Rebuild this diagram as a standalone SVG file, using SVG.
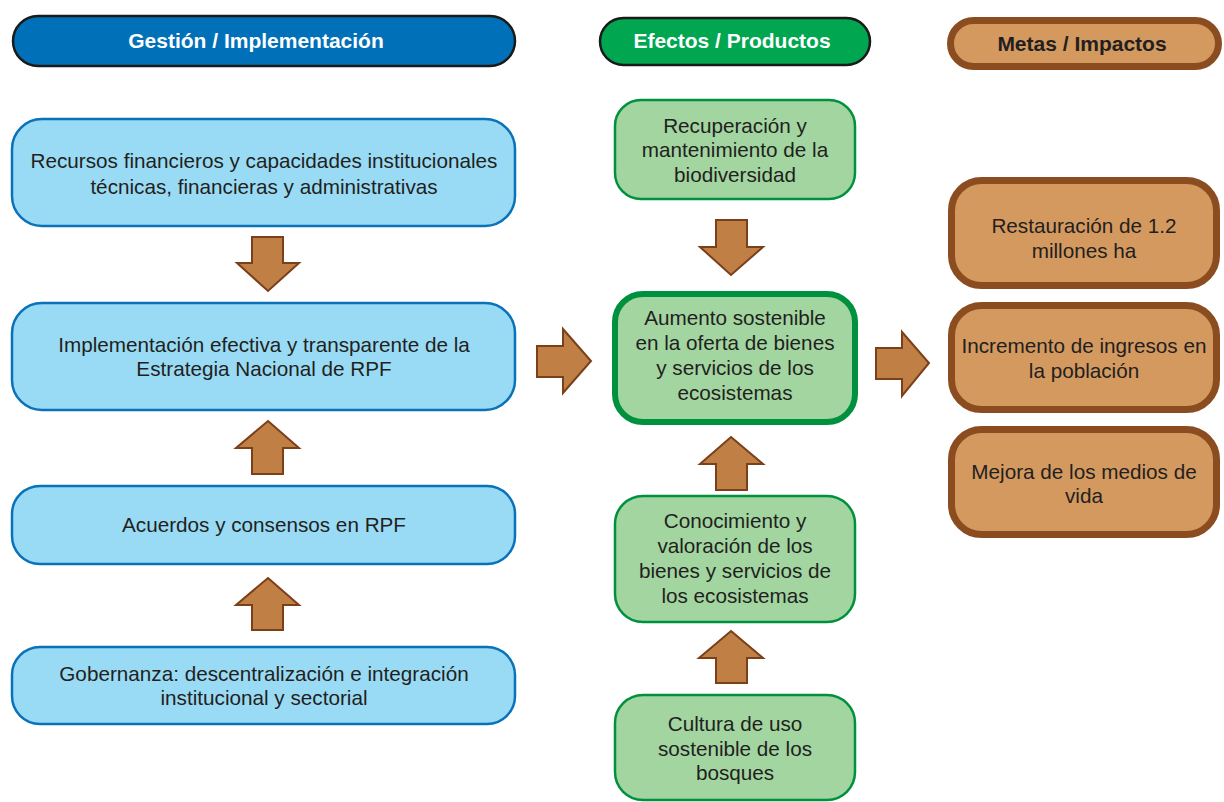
<svg xmlns="http://www.w3.org/2000/svg" width="1224" height="802" viewBox="0 0 1224 802">
<style>
.t{font-family:"Liberation Sans",Arial,sans-serif;font-size:20.7px;fill:#231f20;text-anchor:middle}
.h{font-family:"Liberation Sans",Arial,sans-serif;font-size:21px;font-weight:bold;text-anchor:middle}
.blue{fill:#99dbf5;stroke:#0a72b9;stroke-width:2.5}
.green{fill:#a2d5a0;stroke:#00913f;stroke-width:2.5}
.brown{fill:#d4995f;stroke:#8b4c20;stroke-width:7}
.arr{fill:#c07f45;stroke:#7b3f1a;stroke-width:2;stroke-linejoin:miter}
</style>
<rect width="1224" height="802" fill="#fff"/>
<g id="hdr-gestion">
<rect x="13" y="16" width="502" height="50" rx="25" fill="#0070b8" stroke="#1a1a1a" stroke-width="2.5"/>
<text class="h" x="256" y="48" fill="#fff">Gestión / Implementación</text>
</g>
<g id="hdr-efectos">
<rect x="600" y="18" width="270" height="47" rx="23.5" fill="#00a650" stroke="#1a1a1a" stroke-width="2.5"/>
<text class="h" x="732" y="48" fill="#fff">Efectos / Productos</text>
</g>
<g id="hdr-metas">
<rect x="950.5" y="20.5" width="268" height="46" rx="23" class="brown"/>
<text class="h" x="1082" y="51" fill="#231f20">Metas / Impactos</text>
</g>

<g id="n-recursos">
<rect x="12" y="119" width="503" height="107" rx="30" class="blue"/>
<text class="t" x="264" y="168">Recursos financieros y capacidades institucionales</text>
<text class="t" x="264" y="194">técnicas, financieras y administrativas</text>
</g>
<g id="n-implementacion">
<rect x="12" y="303" width="503" height="107" rx="30" class="blue"/>
<text class="t" x="264" y="352">Implementación efectiva y transparente de la</text>
<text class="t" x="264" y="376">Estrategia Nacional de RPF</text>
</g>
<g id="n-acuerdos">
<rect x="12" y="486" width="503" height="78" rx="28" class="blue"/>
<text class="t" x="264" y="532">Acuerdos y consensos en RPF</text>
</g>
<g id="n-gobernanza">
<rect x="12" y="647" width="503" height="77" rx="28" class="blue"/>
<text class="t" x="264" y="681">Gobernanza: descentralización e integración</text>
<text class="t" x="264" y="705">institucional y sectorial</text>
</g>

<g id="n-recuperacion">
<rect x="615" y="100" width="240" height="99" rx="26" class="green"/>
<text class="t" x="735" y="133">Recuperación y</text>
<text class="t" x="735" y="157">mantenimiento de la</text>
<text class="t" x="735" y="182">biodiversidad</text>
</g>
<g id="n-aumento">
<rect x="615" y="294" width="240" height="128" rx="28" fill="#a2d5a0" stroke="#00913f" stroke-width="6"/>
<text class="t" x="735" y="325">Aumento sostenible</text>
<text class="t" x="735" y="350">en la oferta de bienes</text>
<text class="t" x="735" y="375">y servicios de los</text>
<text class="t" x="735" y="400">ecosistemas</text>
</g>
<g id="n-conocimiento">
<rect x="615" y="496" width="240" height="126" rx="28" class="green"/>
<text class="t" x="735" y="528">Conocimiento y</text>
<text class="t" x="735" y="553">valoración de los</text>
<text class="t" x="735" y="578">bienes y servicios de</text>
<text class="t" x="735" y="603">los ecosistemas</text>
</g>
<g id="n-cultura">
<rect x="615" y="695" width="240" height="105" rx="28" class="green"/>
<text class="t" x="735" y="731">Cultura de uso</text>
<text class="t" x="735" y="756">sostenible de los</text>
<text class="t" x="735" y="780">bosques</text>
</g>

<g id="n-restauracion">
<rect x="951.5" y="180.5" width="265" height="105" rx="30" class="brown"/>
<text class="t" x="1084" y="233">Restauración de 1.2</text>
<text class="t" x="1084" y="258">millones ha</text>
</g>
<g id="n-ingresos">
<rect x="951.5" y="305.5" width="265" height="104" rx="30" class="brown"/>
<text class="t" x="1084" y="353">Incremento de ingresos en</text>
<text class="t" x="1084" y="378">la población</text>
</g>
<g id="n-medios">
<rect x="951.5" y="429.5" width="265" height="105" rx="30" class="brown"/>
<text class="t" x="1084" y="479">Mejora de los medios de</text>
<text class="t" x="1084" y="503">vida</text>
</g>

<g id="connectors">
<polygon class="arr" points="252,237 283,237 283,263 299,263 268,291 237,263 252,263"/>
<polygon class="arr" points="268,421 299,448 283,448 283,474 252,474 252,448 236,448"/>
<polygon class="arr" points="268,578 299,605 283,605 283,630 252,630 252,605 236,605"/>
<polygon class="arr" points="716,220 747,220 747,247 763,247 731,275 700,247 716,247"/>
<polygon class="arr" points="731,437 763,464 747,464 747,490 716,490 716,464 700,464"/>
<polygon class="arr" points="731,631 763,658 747,658 747,683 716,683 716,658 699,658"/>
<polygon class="arr" points="537,346 563,346 563,329 591,361 563,393 563,377 537,377"/>
<polygon class="arr" points="876,348 902,348 902,332 929,363 902,396 902,379 876,379"/>
</g>
</svg>
